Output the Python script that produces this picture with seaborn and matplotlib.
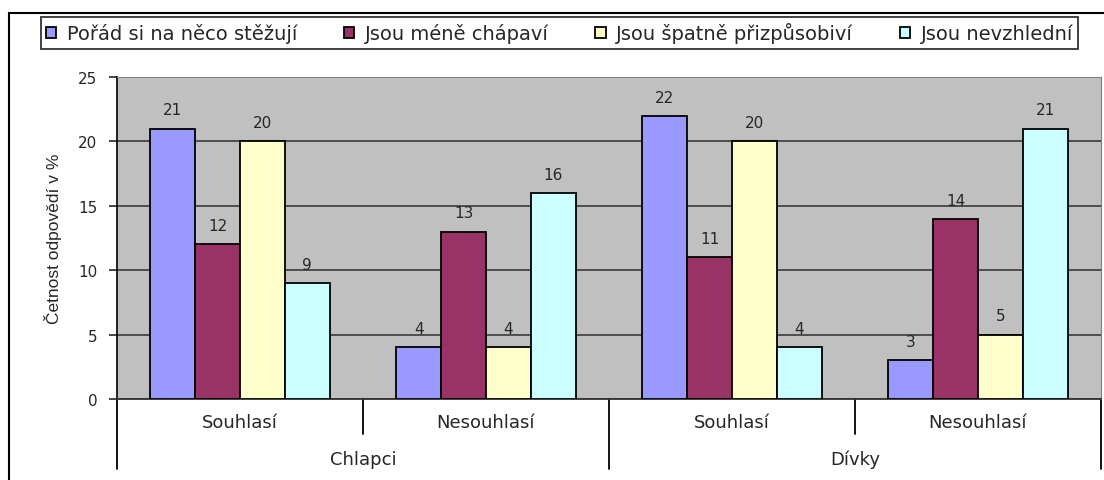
import pandas as pd
import matplotlib.pyplot as plt
import seaborn as sns
from matplotlib.patches import Rectangle
from matplotlib.transforms import blended_transform_factory

groups = ["Chlapci", "Chlapci", "Dívky", "Dívky"]
answers = ["Souhlasí", "Nesouhlasí", "Souhlasí", "Nesouhlasí"]

series_names = [
    "Pořád si na něco stěžují",
    "Jsou méně chápaví",
    "Jsou špatně přizpůsobiví",
    "Jsou nevzhlední",
]
complains = [21, 4, 22, 3]
less_understanding = [12, 13, 11, 14]
badly_adaptive = [20, 4, 20, 5]
unsightly = [9, 16, 4, 21]

colors = ["#9999FF", "#993366", "#FFFFCC", "#CCFFFF"]


def build_frame():
    """Long table for seaborn"""
    rows = []
    values = [complains, less_understanding, badly_adaptive, unsightly]
    for name, vals in zip(series_names, values):
        for i, v in enumerate(vals):
            rows.append({"pos": f"{groups[i]} {answers[i]}", "series": name, "value": v})
    return pd.DataFrame(rows)


def draw_chart(df):
    sns.set_style("white")
    plt.rcParams["font.family"] = ["DejaVu Sans"]

    fig = plt.figure(figsize=(11.04, 4.81), dpi=100)
    ax = fig.add_axes([117 / 1104, 1 - 400 / 481, 984 / 1104, 322 / 481])

    # outer chart border (cut off on the right and bottom)
    fig.patches.append(Rectangle((9 / 1104, -0.5), 2, 1.5 - 14 / 481,
                                 transform=fig.transFigure, fill=False,
                                 edgecolor="black", linewidth=1.5))

    order = [f"{g} {a}" for g, a in zip(groups, answers)]
    sns.barplot(
        data=df,
        x="pos",
        y="value",
        hue="series",
        order=order,
        hue_order=series_names,
        palette=colors,
        width=0.73,
        edgecolor="black",
        linewidth=1.3,
        saturation=1,
        legend=True,
        ax=ax,
        zorder=3,
    )

    ax.set_facecolor("#C0C0C0")
    ax.set_ylim(0, 25)
    ax.set_xlim(-0.5, 3.5)
    ax.set_yticks(range(0, 26, 5))
    ax.yaxis.grid(True, color="#3a3a3a", linewidth=1.2)
    ax.set_axisbelow(True)
    ax.tick_params(axis="y", left=True, length=6, width=1.2, labelsize=11, pad=8)
    ax.tick_params(axis="x", bottom=False, labelbottom=False)
    ax.set_xlabel("")
    ax.set_ylabel("Četnost odpovědí v %", fontsize=12.5,
                  family=["Liberation Sans Narrow", "Liberation Sans"], labelpad=12)

    for side in ["top", "right"]:
        ax.spines[side].set_color("#808080")
    ax.spines["left"].set_color("black")
    ax.spines["left"].set_linewidth(1.2)
    ax.spines["bottom"].set_color("#333333")
    ax.spines["bottom"].set_linewidth(1.3)

    for container in ax.containers:
        ax.bar_label(container, padding=8, fontsize=11)

    # hierarchical category axis
    trans = blended_transform_factory(ax.transData, ax.transAxes)
    for x in [-0.5, 1.5, 3.5]:
        ax.plot([x, x], [0, -0.217], color="black", linewidth=1.3,
                transform=trans, clip_on=False)
    for x in [0.5, 2.5]:
        ax.plot([x, x], [0, -0.109], color="black", linewidth=1.3,
                transform=trans, clip_on=False)
    for i, a in enumerate(answers):
        ax.text(i, -0.072, a, transform=trans, ha="center", va="center", fontsize=13)
    for i, g in enumerate(["Chlapci", "Dívky"]):
        ax.text(2 * i + 0.5, -0.187, g, transform=trans, ha="center", va="center",
                fontsize=13)

    handles, labels = ax.get_legend_handles_labels()
    ax.get_legend().remove()
    leg = fig.legend(
        handles, labels,
        loc="upper left",
        bbox_to_anchor=(41 / 1104, 1 - 18 / 481),
        ncol=4,
        fontsize=14,
        frameon=True,
        fancybox=False,
        edgecolor="black",
        handlelength=0.52,
        handleheight=0.52,
        handletextpad=0.55,
        columnspacing=2.4,
        borderpad=0.27,
        borderaxespad=0,
    )
    leg.get_frame().set_linewidth(1.3)
    for h in leg.legend_handles:
        h.set_edgecolor("black")
        h.set_linewidth(1.3)

    fig.savefig("out.png", dpi=100)


def main():
    df = build_frame()
    draw_chart(df)


if __name__ == "__main__":
    main()
